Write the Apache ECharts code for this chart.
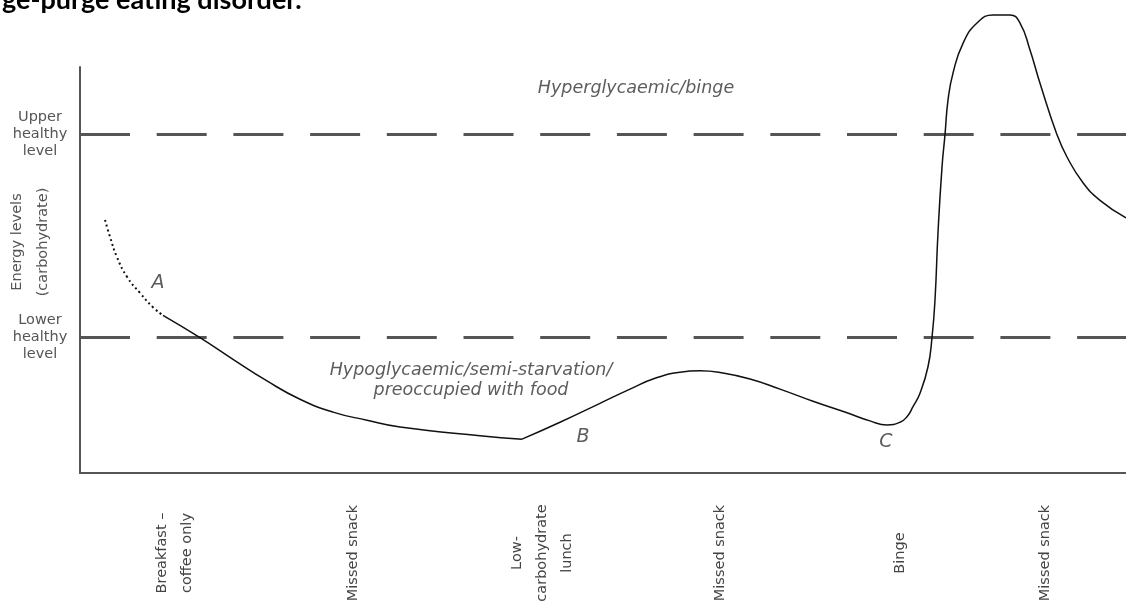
<!DOCTYPE html>
<html>
<head>
<meta charset="utf-8">
<script src="https://cdn.jsdelivr.net/npm/echarts@6/dist/echarts.min.js"></script>
<style>
html,body{margin:0;padding:0;background:#fff;}
#chart{width:1126px;height:606px;}
</style>
</head>
<body>
<div id="chart"></div>
<script>
// Time along the day (arbitrary minutes from axis origin) and energy level (arbitrary units)
const timeDotted   = [25, 30, 37, 47, 60, 73, 83];
const energyDotted = [3.74, 3.49, 3.19, 2.90, 2.66, 2.45, 2.33];

const timeFall   = [83, 120, 153, 187, 220, 253, 287, 320, 400, 442];
const energyFall = [2.33, 2.00, 1.68, 1.36, 1.09, 0.90, 0.78, 0.68, 0.55, 0.50];

const timeRise   = [442, 480, 520, 550, 575, 600, 620, 640, 670, 700, 733, 767, 790, 807, 820, 827, 833, 840, 848, 852, 855, 858, 862, 865, 868, 873, 883, 897, 913, 930, 940, 950, 960, 977, 987, 1003, 1020, 1046];
const energyRise = [0.50, 0.75, 1.03, 1.24, 1.40, 1.49, 1.51, 1.485, 1.39, 1.24, 1.06, 0.89, 0.77, 0.71, 0.75, 0.83, 0.98, 1.18, 1.57, 2.00, 2.56, 3.55, 4.52, 5.00, 5.51, 5.91, 6.35, 6.65, 6.77, 6.77, 6.65, 6.25, 5.76, 5.00, 4.67, 4.29, 4.03, 3.77];

const mealTimes  = [95, 273, 462, 640, 820, 965];
const mealLabels = ['Breakfast –\ncoffee only', 'Missed snack', 'Low-\ncarbohydrate\nlunch', 'Missed snack', 'Binge', 'Missed snack'];

const levelValues = [2, 5];
const levelLabels = ['Lower\nhealthy\nlevel', 'Upper\nhealthy\nlevel'];

const zoneTexts = ['Hyperglycaemic/binge', 'Hypoglycaemic/semi-starvation/\npreoccupied with food'];
const zoneX = [556, 391];
const zoneY = [5.69, 1.37];

const pointTexts = ['A', 'B', 'C', 'D'];
const pointX = [78, 503, 806, 920];
const pointY = [2.81, 0.53, 0.46, 6.18];

const zip = (xs, ys) => xs.map((x, i) => [x, ys[i]]);
const FONT = 'DejaVu Sans';

const chart = echarts.init(document.getElementById('chart'));
chart.setOption({
  animation: false,
  backgroundColor: '#fff',
  title: {
    text: 'ge-purge eating disorder.',
    left: -3,
    top: -18,
    textStyle: { fontFamily: 'Lato', fontWeight: 'bold', fontSize: 27, color: '#000' }
  },
  grid: { left: 80, right: 0, top: 67, bottom: 133, outerBoundsMode: 'none', containLabel: false },
  xAxis: {
    type: 'value',
    min: 0,
    max: 1046,
    axisLine: { show: true, lineStyle: { color: '#555', width: 2 } },
    axisTick: { show: false },
    splitLine: { show: false },
    axisLabel: {
      customValues: mealTimes,
      formatter: function (v) {
        let best = 0;
        for (let i = 1; i < mealTimes.length; i++) {
          if (Math.abs(mealTimes[i] - v) < Math.abs(mealTimes[best] - v)) best = i;
        }
        return mealLabels[best];
      },
      rotate: 90,
      align: 'center',
      verticalAlign: 'middle',
      margin: 80,
      lineHeight: 25,
      fontFamily: FONT,
      fontSize: 14.5,
      color: '#444'
    }
  },
  yAxis: {
    type: 'value',
    min: 0,
    max: 6,
    name: 'Energy levels\n(carbohydrate)',
    nameLocation: 'middle',
    nameRotate: 90,
    nameGap: 24,
    nameMoveOverlap: false,
    nameTextStyle: { fontFamily: FONT, fontSize: 14.5, lineHeight: 26, color: '#555', padding: [0, 0, 0, 56] },
    axisLine: { show: true, lineStyle: { color: '#555', width: 2 } },
    axisTick: { show: false },
    splitLine: { show: false },
    axisLabel: {
      customValues: levelValues,
      formatter: function (v) {
        return levelLabels[levelValues.indexOf(v)] || '';
      },
      align: 'center',
      margin: 40,
      lineHeight: 17,
      fontFamily: FONT,
      fontSize: 14.5,
      color: '#555'
    }
  },
  series: [
    {
      type: 'line',
      data: zip(timeDotted, energyDotted),
      showSymbol: false,
      smooth: 0.5,
      clip: false,
      lineStyle: { color: '#111', width: 2, type: [2, 3] },
      z: 5
    },
    {
      type: 'line',
      data: zip(timeFall, energyFall),
      showSymbol: false,
      smooth: 0.5,
      clip: false,
      lineStyle: { color: '#111', width: 1.5 },
      z: 5,
      markLine: {
        silent: true,
        symbol: 'none',
        label: { show: false },
        lineStyle: { color: '#555', width: 3, type: [50, 26.7] },
        data: levelValues.map(v => ({ yAxis: v })),
        z: 2
      }
    },
    {
      type: 'line',
      data: zip(timeRise, energyRise),
      showSymbol: false,
      smooth: 0.5,
      clip: false,
      lineStyle: { color: '#111', width: 1.5 },
      z: 5
    },
    {
      type: 'scatter',
      symbolSize: 0,
      silent: true,
      data: zoneTexts.map((t, i) => ({ value: [zoneX[i], zoneY[i]], name: t })),
      label: {
        show: true,
        position: 'inside',
        formatter: p => p.name,
        fontFamily: FONT,
        fontStyle: 'italic',
        fontSize: 17.5,
        lineHeight: 20,
        align: 'center',
        color: '#333'
      }
    },
    {
      type: 'scatter',
      symbolSize: 0,
      silent: true,
      data: pointTexts.map((t, i) => ({ value: [pointX[i], pointY[i]], name: t })),
      label: {
        show: true,
        position: 'inside',
        formatter: p => p.name,
        fontFamily: FONT,
        fontStyle: 'italic',
        fontSize: 19,
        color: '#333'
      }
    }
  ]
});
</script>
</body>
</html>
